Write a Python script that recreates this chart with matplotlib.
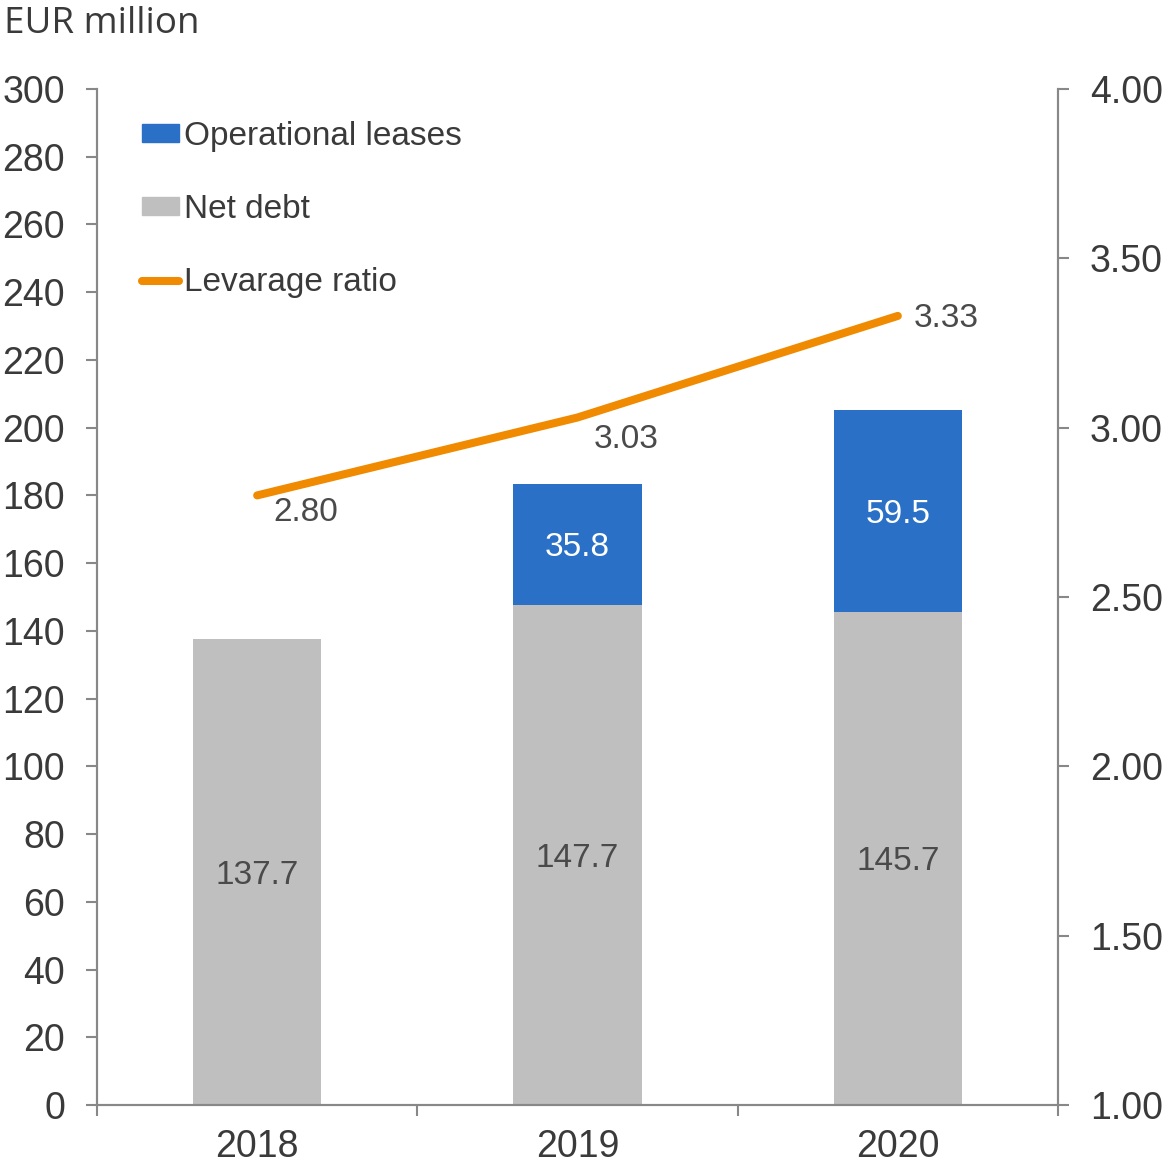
import matplotlib
matplotlib.use('Agg')
import matplotlib.pyplot as plt
import numpy as np
from matplotlib.patches import Patch
from matplotlib.lines import Line2D

years = ['2018', '2019', '2020']
net_debt = [137.7, 147.7, 145.7]
op_leases = [0.0, 35.8, 59.5]
leverage = [2.80, 3.03, 3.33]
left_ticks = list(range(0, 301, 20))
right_ticks = [1.00, 1.50, 2.00, 2.50, 3.00, 3.50, 4.00]

grey = '#BFBFBF'
blue = '#2970C6'
orange = '#F08A00'
txt = '#3a3a3a'
spine_c = '#888888'

plt.rcParams['font.family'] = ['Liberation Sans', 'DejaVu Sans']

fig = plt.figure(figsize=(11.69, 11.67), dpi=100)
ax = fig.add_axes([97 / 1169, 1 - 1105 / 1167, (1058 - 97) / 1169, (1105 - 89) / 1167])
ax2 = ax.twinx()

x = np.arange(len(years))
w = 0.4
ax.bar(x, net_debt, width=w, color=grey, zorder=2)
ax.bar(x, op_leases, width=w, bottom=net_debt, color=blue, zorder=2)

for i in range(len(years)):
    ax.text(x[i], net_debt[i] / 2, f'{net_debt[i]:.1f}', ha='center', va='center_baseline',
            fontsize=24, color='#4a4a4a')
    if op_leases[i] > 0:
        ax.text(x[i], net_debt[i] + op_leases[i] / 2, f'{op_leases[i]:.1f}',
                ha='center', va='center_baseline', fontsize=24, color='white')

ax.set_xlim(-0.5, 2.5)
ax.set_ylim(0, 300)
ax.set_yticks(left_ticks)
ax.set_xticks(x)
ax.set_xticklabels(years)
ax.set_xticks([-0.5, 0.5, 1.5, 2.5], minor=True)
ax.tick_params(axis='x', which='major', length=0, pad=17, labelsize=27, labelcolor=txt)
ax.tick_params(axis='x', which='minor', length=8, width=1.5, color=spine_c, direction='out')
ax.tick_params(axis='y', length=8, width=1.5, color=spine_c, pad=15, labelsize=27, labelcolor=txt)

ax2.plot(x, leverage, color=orange, lw=5.8, solid_capstyle='round', zorder=3)
ax2.set_ylim(1.0, 4.0)
ax2.set_yticks(right_ticks)
ax2.set_yticklabels([f'{t:.2f}' for t in right_ticks])
ax2.tick_params(axis='y', length=8, width=1.5, color=spine_c, pad=15, labelsize=27, labelcolor=txt)

offsets = [(35, -12), (35, -16), (35, -2)]
for i in range(len(years)):
    ax2.annotate(f'{leverage[i]:.2f}', (x[i], leverage[i]), xytext=offsets[i],
                 textcoords='offset points', ha='center', va='center',
                 fontsize=24, color='#4a4a4a')

for a in (ax, ax2):
    a.spines['top'].set_visible(False)
    for s in ('left', 'right', 'bottom'):
        a.spines[s].set_color(spine_c)
        a.spines[s].set_linewidth(1.5)

handles = [Patch(color=blue), Patch(color=grey),
           Line2D([0], [0], color=orange, lw=5.8, solid_capstyle='round')]
labels = ['Operational leases', 'Net debt', 'Levarage ratio']
leg = ax2.legend(handles, labels, loc='upper left', bbox_to_anchor=(0.033, 0.982),
                 frameon=False, fontsize=24, handlelength=1.1, handleheight=0.45,
                 handletextpad=0.15, labelspacing=1.27, borderaxespad=0)
for t in leg.get_texts():
    t.set_color(txt)

fig.text(4 / 1169, 1 - 24 / 1167, 'EUR million', fontsize=26.5, color=txt,
         family='Open Sans', va='center', ha='left')

fig.savefig('out.png', dpi=100)
